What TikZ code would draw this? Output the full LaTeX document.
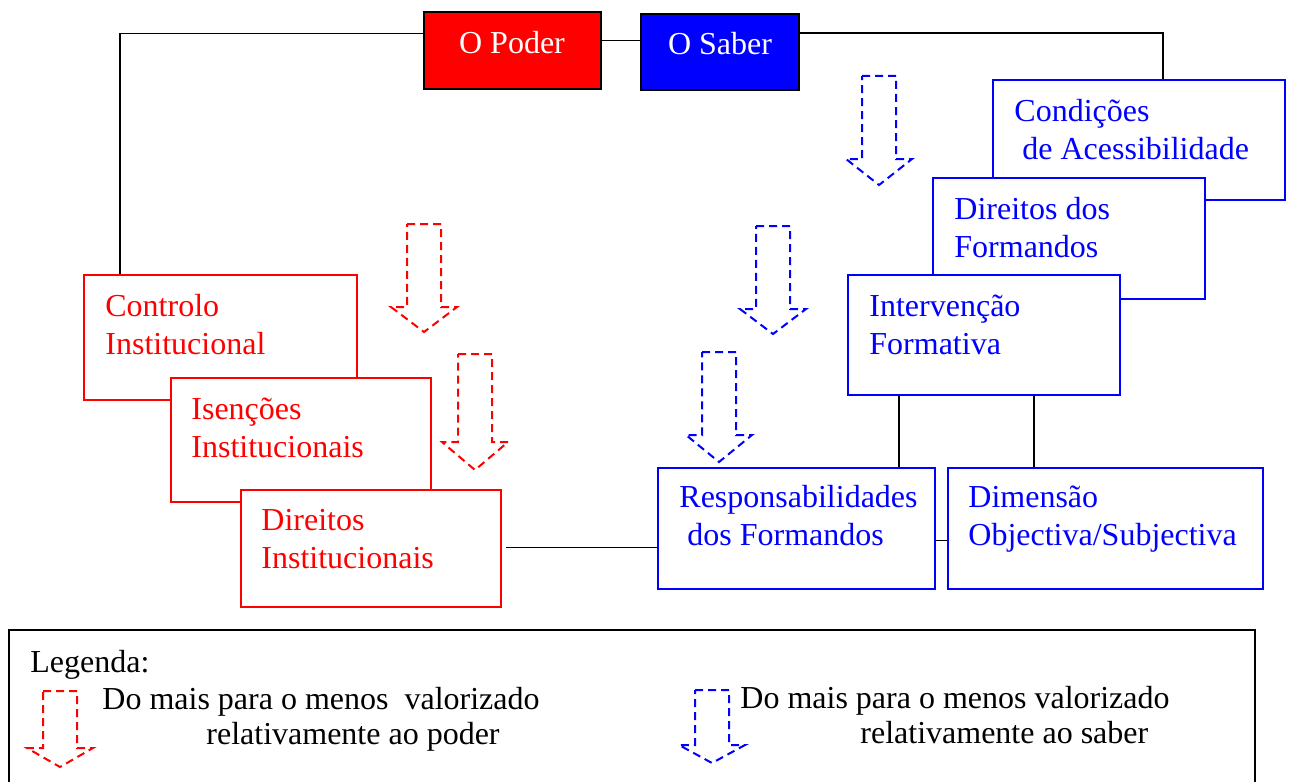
\documentclass[tikz,border=0pt]{standalone}
\usepackage{fontspec}
\setmainfont{Liberation Serif}
\usetikzlibrary{fit}
% dashed block arrow: colour, centre x, top y, shaft length, head length
\newcommand{\valarrow}[5]{\draw[#1, dasharrow] (#2-17,#3) -- ++(34,0) -- ++(0,#4) -- ++(16,0) -- ++(-33,#5) -- ++(-33,-#5) -- ++(16,0) -- cycle;}

\begin{document}
\begin{tikzpicture}[x=0.5pt, y=-0.5pt,
        box/.style = {draw, fill=white, line width=1pt, inner sep=0pt},
        rbox/.style = {box, draw=red},
        bbox/.style = {box, draw=blue},
        boxtxt/.style = {anchor=base west, inner sep=0pt, align=left, font=\fontsize{16}{19}\selectfont},
        link/.style = {line width=0.9pt},
        dasharrow/.style = {line width=1pt, dash pattern=on 4pt off 2.5pt}]
    \useasboundingbox (0,0) rectangle (1293,781);

    % top
    \node[box, draw=black, fill=red, fit={(424,12) (601,89)}] (pod) {};
    \node[boxtxt, anchor=base, text=white] (pod-t) at (512,54) {O Poder};
    \node[box, draw=black, fill=blue, fit={(641,14) (799,90)}] (sab) {};
    \node[boxtxt, anchor=base, text=white] (sab-t) at (720,55) {O Saber};

    % poder side
    \node[rbox, fit={(84,275) (357,400)}] (ctl) {};
    \node[boxtxt, text=red] (ctl-t) at ([shift={(22,80)}]ctl.north west) {Controlo\\Institucional};
    \node[rbox, fit={(171,378) (431,502)}] (isen) {};
    \node[boxtxt, text=red] (isen-t) at ([shift={(21,80)}]isen.north west) {Isenções\\Institucionais};
    \node[rbox, fit={(241,490) (501,607)}] (dinst) {};
    \node[boxtxt, text=red] (dinst-t) at ([shift={(21,79)}]dinst.north west) {Direitos\\Institucionais};

    % saber side
    \node[bbox, fit={(993,80) (1285,200)}] (acc) {};
    \node[boxtxt, text=blue] (acc-t) at ([shift={(22,80)}]acc.north west) {Condições\\\ de Acessibilidade};
    \node[bbox, fit={(933,178) (1205,299)}] (dfor) {};
    \node[boxtxt, text=blue] (dfor-t) at ([shift={(22,80)}]dfor.north west) {Direitos dos\\Formandos};
    \node[bbox, fit={(848,275) (1120,395)}] (int) {};
    \node[boxtxt, text=blue] (int-t) at ([shift={(22,80)}]int.north west) {Intervenção\\Formativa};
    \node[bbox, fit={(658,468) (935,589)}] (resp) {};
    \node[boxtxt, text=blue] (resp-t) at ([shift={(22,78)}]resp.north west) {Responsabilidades\\\ dos Formandos};
    \node[bbox, fit={(948,468) (1263,589)}] (dim) {};
    \node[boxtxt, text=blue] (dim-t) at ([shift={(21,78)}]dim.north west) {Dimensão\\Objectiva/Subjectiva};

    % links
    \draw[link] ([shift={(0,-17)}]pod.west) -| ([shift={(37,0)}]ctl.north west);
    \draw[link] ([shift={(0,-10)}]pod.east) -- ([shift={(0,-10)}]pod.east -| sab.west);
    \draw[link] ([shift={(0,-19)}]sab.east) -| ([shift={(171,0)}]acc.north west);
    \draw[link] ([shift={(52,0)}]int.south west) -- ([shift={(52,0)}]int.south west |- resp.north);
    \draw[link] ([shift={(187,0)}]int.south west) -- ([shift={(187,0)}]int.south west |- dim.north);
    \draw[link] ([shift={(0,12)}]resp.east) -- ([shift={(0,12)}]resp.east -| dim.west);
    \draw[link] ([shift={(4,-1)}]dinst.east) -- ([shift={(0,-1)}]dinst.east -| resp.west);

    % arrows
    \valarrow{red}{424}{224}{83}{25}
    \valarrow{red}{475}{354}{88}{28}
    \valarrow{blue}{879}{76}{83}{26}
    \valarrow{blue}{773}{226}{83}{25}
    \valarrow{blue}{719}{352}{83}{27}

    % legend
    \draw[line width=1pt] (9,790) |- (1255,630) -- (1255,790);
    \node[boxtxt] (leg) at (30,672) {Legenda:};
    \valarrow{red}{60}{691}{57}{19}
    \node[boxtxt, font=\fontsize{16}{17.5}\selectfont] (leg-r) at (102,744) {Do mais para o menos~ valorizado\\\hspace*{52pt}relativamente ao poder};
    \valarrow{blue}{712}{690}{55}{18}
    \node[boxtxt, font=\fontsize{16}{17.5}\selectfont] (leg-b) at (740,743) {Do mais para o menos valorizado\\\hspace*{60pt}relativamente ao saber};
\end{tikzpicture}
\end{document}
